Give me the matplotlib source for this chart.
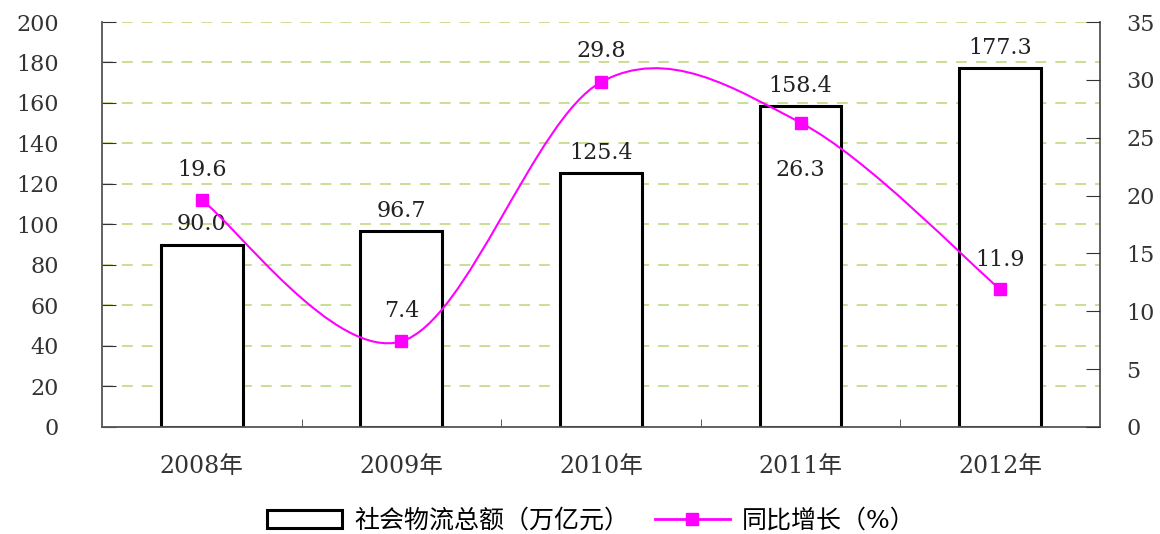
import matplotlib
matplotlib.use("Agg")
import matplotlib.pyplot as plt
from matplotlib.path import Path
from matplotlib.patches import PathPatch, Patch
from matplotlib.lines import Line2D
import numpy as np

plt.rcParams['font.family'] = ['DejaVu Serif', 'Noto Sans CJK SC', 'DejaVu Sans']

years = ["2008年", "2009年", "2010年", "2011年", "2012年"]
total = [90.0, 96.7, 125.4, 158.4, 177.3]
growth = [19.6, 7.4, 29.8, 26.3, 11.9]
bar_label = "社会物流总额（万亿元）"
line_label = "同比增长（%）"

fig = plt.figure(figsize=(11.6, 5.34), dpi=100)
ax = fig.add_axes([0.0879, 0.2004, 0.8603, 0.7584])
ax2 = ax.twinx()

x = np.arange(len(years))
grid_c = "#c4dc8c"
for v in range(20, 201, 20):
    ax.axhline(v, color=grid_c, lw=1.3, ls=(0, (6, 5)), zorder=0)

ax.bar(x, total, width=0.41, facecolor="white", edgecolor="black", lw=2.2, zorder=2)
ax.set_xlim(-0.5, 4.5)
ax.set_ylim(0, 200)
ax.set_yticks(range(0, 201, 20))
ax.set_xticks(x)
ax.set_xticklabels(years)
ax.set_xticks(np.arange(0.5, 4.5, 1), minor=True)
ax.tick_params(axis="x", which="major", length=0, pad=20, labelsize=17, colors="#333333")
ax.tick_params(axis="x", which="minor", length=6, direction="in", color="#444444")
ax.tick_params(axis="y", direction="in", length=10, labelsize=16, pad=31, colors="#333333")
ax.spines["top"].set_visible(False)
for s in ["left", "right", "bottom"]:
    ax.spines[s].set_color("#555555")
    ax.spines[s].set_linewidth(1.3)

for xi, v in zip(x, total):
    ax.text(xi, v + 10, "%.1f" % v, ha="center", va="center", fontsize=16, color="#222222", zorder=5)

# smoothed line (Excel-like bezier through the points)
ax2.set_ylim(0, 35)
ax2.set_yticks(range(0, 36, 5))
ax2.tick_params(axis="y", direction="in", length=10, labelsize=16, pad=19, colors="#333333")
for s in ["left", "right", "bottom", "top"]:
    ax2.spines[s].set_visible(False)
pts = list(zip(x.astype(float), growth))
verts = [pts[0]]
codes = [Path.MOVETO]
for i in range(len(pts) - 1):
    p0 = pts[i - 1] if i > 0 else pts[i]
    p1 = pts[i]
    p2 = pts[i + 1]
    p3 = pts[i + 2] if i + 2 < len(pts) else pts[i + 1]
    c1 = (p1[0] + (p2[0] - p0[0]) / 6, p1[1] + (p2[1] - p0[1]) / 6)
    c2 = (p2[0] - (p3[0] - p1[0]) / 6, p2[1] - (p3[1] - p1[1]) / 6)
    verts += [c1, c2, p2]
    codes += [Path.CURVE4] * 3
ax2.add_patch(PathPatch(Path(verts, codes), facecolor="none", edgecolor="#ff00ff", lw=1.5, zorder=3))
ax2.plot(x, growth, ls="none", marker="s", ms=9, color="#ff00ff", zorder=4)

offsets = [2.6, 2.6, 2.7, -4.1, 2.5]
for xi, v, off in zip(x, growth, offsets):
    ax2.text(xi, v + off, "%.1f" % v, ha="center", va="center",
             fontsize=16, color="#222222", zorder=5)

handles = [Patch(facecolor="white", edgecolor="black", lw=2.2),
           Line2D([0], [0], color="#ff00ff", lw=2, marker="s", ms=9)]
fig.legend(handles, [bar_label, line_label], loc="lower center", bbox_to_anchor=(0.51, -0.04),
           ncol=2, frameon=False, fontsize=18, handlelength=3.0, columnspacing=1.0, handletextpad=0.5)

fig.savefig("out.png", dpi=100)
